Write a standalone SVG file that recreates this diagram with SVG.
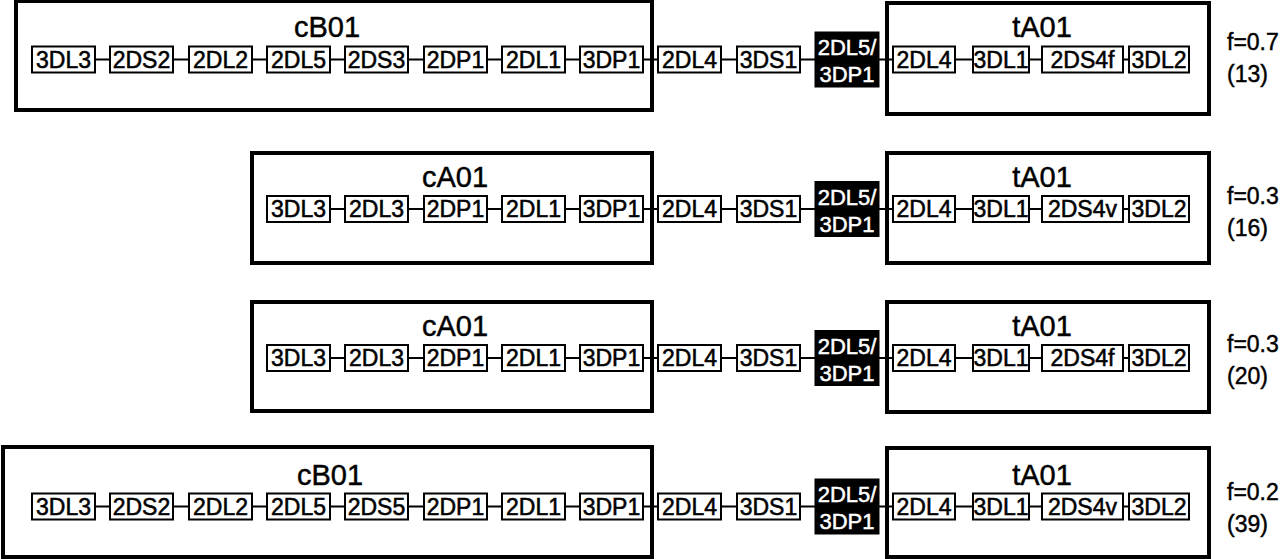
<svg xmlns="http://www.w3.org/2000/svg" width="1280" height="559" viewBox="0 0 1280 559">
<style>
.big{fill:#fff;stroke:#000;stroke-width:4}
.box{fill:#fff;stroke:#000;stroke-width:2}
.blk{fill:#000;stroke:#000;stroke-width:1}
.t{font-family:"Liberation Sans",Arial,sans-serif;font-size:23px;fill:#000;text-anchor:middle;stroke:#000;stroke-width:0.55}
.w{font-family:"Liberation Sans",Arial,sans-serif;font-size:22px;fill:#fff;text-anchor:middle;stroke:#fff;stroke-width:0.5}
.ttl{font-family:"Liberation Sans",Arial,sans-serif;font-size:29px;fill:#000;text-anchor:middle;stroke:#000;stroke-width:0.45}
.f{font-family:"Liberation Sans",Arial,sans-serif;font-size:23px;fill:#000;stroke:#000;stroke-width:0.45}
.c{stroke:#000;stroke-width:2;fill:none}
</style>
<rect width="1280" height="559" fill="#fff"/>

<!-- containers -->
<g id="r1-cB01"><rect class="big" x="16" y="1" width="636" height="109"/><text class="ttl" x="327" y="37">cB01</text></g>
<g id="r1-tA01"><rect class="big" x="887" y="3" width="322" height="111"/><text class="ttl" x="1042" y="37">tA01</text></g>
<g id="r2-cA01"><rect class="big" x="252" y="153" width="400" height="110"/><text class="ttl" x="455" y="187">cA01</text></g>
<g id="r2-tA01"><rect class="big" x="887" y="153" width="322" height="110"/><text class="ttl" x="1042" y="187">tA01</text></g>
<g id="r3-cA01"><rect class="big" x="252" y="302" width="400" height="109"/><text class="ttl" x="455" y="336">cA01</text></g>
<g id="r3-tA01"><rect class="big" x="887" y="302" width="322" height="110"/><text class="ttl" x="1042" y="336">tA01</text></g>
<g id="r4-cB01"><rect class="big" x="3" y="447" width="649" height="110"/><text class="ttl" x="330" y="485">cB01</text></g>
<g id="r4-tA01"><rect class="big" x="887" y="448" width="322" height="109"/><text class="ttl" x="1042" y="485">tA01</text></g>

<!-- connectors -->
<g id="connectors" class="c">
<path d="M95 59.5H110M173 59.5H189M252 59.5H267M330 59.5H345M408 59.5H424M487 59.5H502M565 59.5H580M643 59.5H658M721 59.5H737M800 59.5H815M879 59.5H893M955 59.5H973M1029 59.5H1042M1123 59.5H1129"/>
<path d="M330 209H345M408 209H424M487 209H502M565 209H580M643 209H658M721 209H737M800 209H815M879 209H893M955 209H973M1029 209H1042M1123 209H1129"/>
<path d="M330 358H345M408 358H424M487 358H502M565 358H580M643 358H658M721 358H737M800 358H815M879 358H893M955 358H973M1029 358H1042M1123 358H1129"/>
<path d="M95 506.5H110M173 506.5H189M252 506.5H267M330 506.5H345M408 506.5H424M487 506.5H502M565 506.5H580M643 506.5H658M721 506.5H737M800 506.5H815M879 506.5H893M955 506.5H973M1029 506.5H1042M1123 506.5H1129"/>
</g>

<!-- row 1 -->
<g id="r1-n0"><rect class="box" x="32" y="46.5" width="63" height="26"/><text class="t" x="63.5" y="67.5">3DL3</text></g>
<g id="r1-n1"><rect class="box" x="110" y="46.5" width="63" height="26"/><text class="t" x="141.5" y="67.5">2DS2</text></g>
<g id="r1-n2"><rect class="box" x="189" y="46.5" width="63" height="26"/><text class="t" x="220.5" y="67.5">2DL2</text></g>
<g id="r1-n3"><rect class="box" x="267" y="46.5" width="63" height="26"/><text class="t" x="298.5" y="67.5">2DL5</text></g>
<g id="r1-n4"><rect class="box" x="345" y="46.5" width="63" height="26"/><text class="t" x="376.5" y="67.5">2DS3</text></g>
<g id="r1-n5"><rect class="box" x="424" y="46.5" width="63" height="26"/><text class="t" x="455.5" y="67.5">2DP1</text></g>
<g id="r1-n6"><rect class="box" x="502" y="46.5" width="63" height="26"/><text class="t" x="533.5" y="67.5">2DL1</text></g>
<g id="r1-n7"><rect class="box" x="580" y="46.5" width="63" height="26"/><text class="t" x="611.5" y="67.5">3DP1</text></g>
<g id="r1-n8"><rect class="box" x="658" y="46.5" width="63" height="26"/><text class="t" x="689.5" y="67.5">2DL4</text></g>
<g id="r1-n9"><rect class="box" x="737" y="46.5" width="63" height="26"/><text class="t" x="768.5" y="67.5">3DS1</text></g>
<g id="r1-hub"><rect class="blk" x="815" y="32" width="64" height="55"/><text class="w" x="847" y="55">2DL5/</text><text class="w" x="847" y="82">3DP1</text></g>
<g id="r1-t0"><rect class="box" x="893" y="46.5" width="62" height="26"/><text class="t" x="924" y="67.5">2DL4</text></g>
<g id="r1-t1"><rect class="box" x="973" y="46.5" width="56" height="26"/><text class="t" x="1001" y="67.5">3DL1</text></g>
<g id="r1-t2"><rect class="box" x="1042" y="46.5" width="81" height="26"/><text class="t" x="1082.5" y="67.5">2DS4f</text></g>
<g id="r1-t3"><rect class="box" x="1129" y="46.5" width="60" height="26"/><text class="t" x="1159" y="67.5">3DL2</text></g>
<g id="r1-f"><text class="f" x="1227" y="50">f=0.7</text><text class="f" x="1227" y="82">(13)</text></g>

<!-- row 2 -->
<g id="r2-n3"><rect class="box" x="267" y="196" width="63" height="26"/><text class="t" x="298.5" y="217">3DL3</text></g>
<g id="r2-n4"><rect class="box" x="345" y="196" width="63" height="26"/><text class="t" x="376.5" y="217">2DL3</text></g>
<g id="r2-n5"><rect class="box" x="424" y="196" width="63" height="26"/><text class="t" x="455.5" y="217">2DP1</text></g>
<g id="r2-n6"><rect class="box" x="502" y="196" width="63" height="26"/><text class="t" x="533.5" y="217">2DL1</text></g>
<g id="r2-n7"><rect class="box" x="580" y="196" width="63" height="26"/><text class="t" x="611.5" y="217">3DP1</text></g>
<g id="r2-n8"><rect class="box" x="658" y="196" width="63" height="26"/><text class="t" x="689.5" y="217">2DL4</text></g>
<g id="r2-n9"><rect class="box" x="737" y="196" width="63" height="26"/><text class="t" x="768.5" y="217">3DS1</text></g>
<g id="r2-hub"><rect class="blk" x="815" y="181.5" width="64" height="55"/><text class="w" x="847" y="204.5">2DL5/</text><text class="w" x="847" y="231.5">3DP1</text></g>
<g id="r2-t0"><rect class="box" x="893" y="196" width="62" height="26"/><text class="t" x="924" y="217">2DL4</text></g>
<g id="r2-t1"><rect class="box" x="973" y="196" width="56" height="26"/><text class="t" x="1001" y="217">3DL1</text></g>
<g id="r2-t2"><rect class="box" x="1042" y="196" width="81" height="26"/><text class="t" x="1082.5" y="217">2DS4v</text></g>
<g id="r2-t3"><rect class="box" x="1129" y="196" width="60" height="26"/><text class="t" x="1159" y="217">3DL2</text></g>
<g id="r2-f"><text class="f" x="1227" y="204">f=0.3</text><text class="f" x="1227" y="236">(16)</text></g>

<!-- row 3 -->
<g id="r3-n3"><rect class="box" x="267" y="345" width="63" height="26"/><text class="t" x="298.5" y="366">3DL3</text></g>
<g id="r3-n4"><rect class="box" x="345" y="345" width="63" height="26"/><text class="t" x="376.5" y="366">2DL3</text></g>
<g id="r3-n5"><rect class="box" x="424" y="345" width="63" height="26"/><text class="t" x="455.5" y="366">2DP1</text></g>
<g id="r3-n6"><rect class="box" x="502" y="345" width="63" height="26"/><text class="t" x="533.5" y="366">2DL1</text></g>
<g id="r3-n7"><rect class="box" x="580" y="345" width="63" height="26"/><text class="t" x="611.5" y="366">3DP1</text></g>
<g id="r3-n8"><rect class="box" x="658" y="345" width="63" height="26"/><text class="t" x="689.5" y="366">2DL4</text></g>
<g id="r3-n9"><rect class="box" x="737" y="345" width="63" height="26"/><text class="t" x="768.5" y="366">3DS1</text></g>
<g id="r3-hub"><rect class="blk" x="815" y="330.5" width="64" height="55"/><text class="w" x="847" y="353.5">2DL5/</text><text class="w" x="847" y="380.5">3DP1</text></g>
<g id="r3-t0"><rect class="box" x="893" y="345" width="62" height="26"/><text class="t" x="924" y="366">2DL4</text></g>
<g id="r3-t1"><rect class="box" x="973" y="345" width="56" height="26"/><text class="t" x="1001" y="366">3DL1</text></g>
<g id="r3-t2"><rect class="box" x="1042" y="345" width="81" height="26"/><text class="t" x="1082.5" y="366">2DS4f</text></g>
<g id="r3-t3"><rect class="box" x="1129" y="345" width="60" height="26"/><text class="t" x="1159" y="366">3DL2</text></g>
<g id="r3-f"><text class="f" x="1227" y="352">f=0.3</text><text class="f" x="1227" y="384">(20)</text></g>

<!-- row 4 -->
<g id="r4-n0"><rect class="box" x="32" y="493.5" width="63" height="26"/><text class="t" x="63.5" y="514.5">3DL3</text></g>
<g id="r4-n1"><rect class="box" x="110" y="493.5" width="63" height="26"/><text class="t" x="141.5" y="514.5">2DS2</text></g>
<g id="r4-n2"><rect class="box" x="189" y="493.5" width="63" height="26"/><text class="t" x="220.5" y="514.5">2DL2</text></g>
<g id="r4-n3"><rect class="box" x="267" y="493.5" width="63" height="26"/><text class="t" x="298.5" y="514.5">2DL5</text></g>
<g id="r4-n4"><rect class="box" x="345" y="493.5" width="63" height="26"/><text class="t" x="376.5" y="514.5">2DS5</text></g>
<g id="r4-n5"><rect class="box" x="424" y="493.5" width="63" height="26"/><text class="t" x="455.5" y="514.5">2DP1</text></g>
<g id="r4-n6"><rect class="box" x="502" y="493.5" width="63" height="26"/><text class="t" x="533.5" y="514.5">2DL1</text></g>
<g id="r4-n7"><rect class="box" x="580" y="493.5" width="63" height="26"/><text class="t" x="611.5" y="514.5">3DP1</text></g>
<g id="r4-n8"><rect class="box" x="658" y="493.5" width="63" height="26"/><text class="t" x="689.5" y="514.5">2DL4</text></g>
<g id="r4-n9"><rect class="box" x="737" y="493.5" width="63" height="26"/><text class="t" x="768.5" y="514.5">3DS1</text></g>
<g id="r4-hub"><rect class="blk" x="815" y="479" width="64" height="55"/><text class="w" x="847" y="502">2DL5/</text><text class="w" x="847" y="529">3DP1</text></g>
<g id="r4-t0"><rect class="box" x="893" y="493.5" width="62" height="26"/><text class="t" x="924" y="514.5">2DL4</text></g>
<g id="r4-t1"><rect class="box" x="973" y="493.5" width="56" height="26"/><text class="t" x="1001" y="514.5">3DL1</text></g>
<g id="r4-t2"><rect class="box" x="1042" y="493.5" width="81" height="26"/><text class="t" x="1082.5" y="514.5">2DS4v</text></g>
<g id="r4-t3"><rect class="box" x="1129" y="493.5" width="60" height="26"/><text class="t" x="1159" y="514.5">3DL2</text></g>
<g id="r4-f"><text class="f" x="1227" y="500">f=0.2</text><text class="f" x="1227" y="532">(39)</text></g>
</svg>
